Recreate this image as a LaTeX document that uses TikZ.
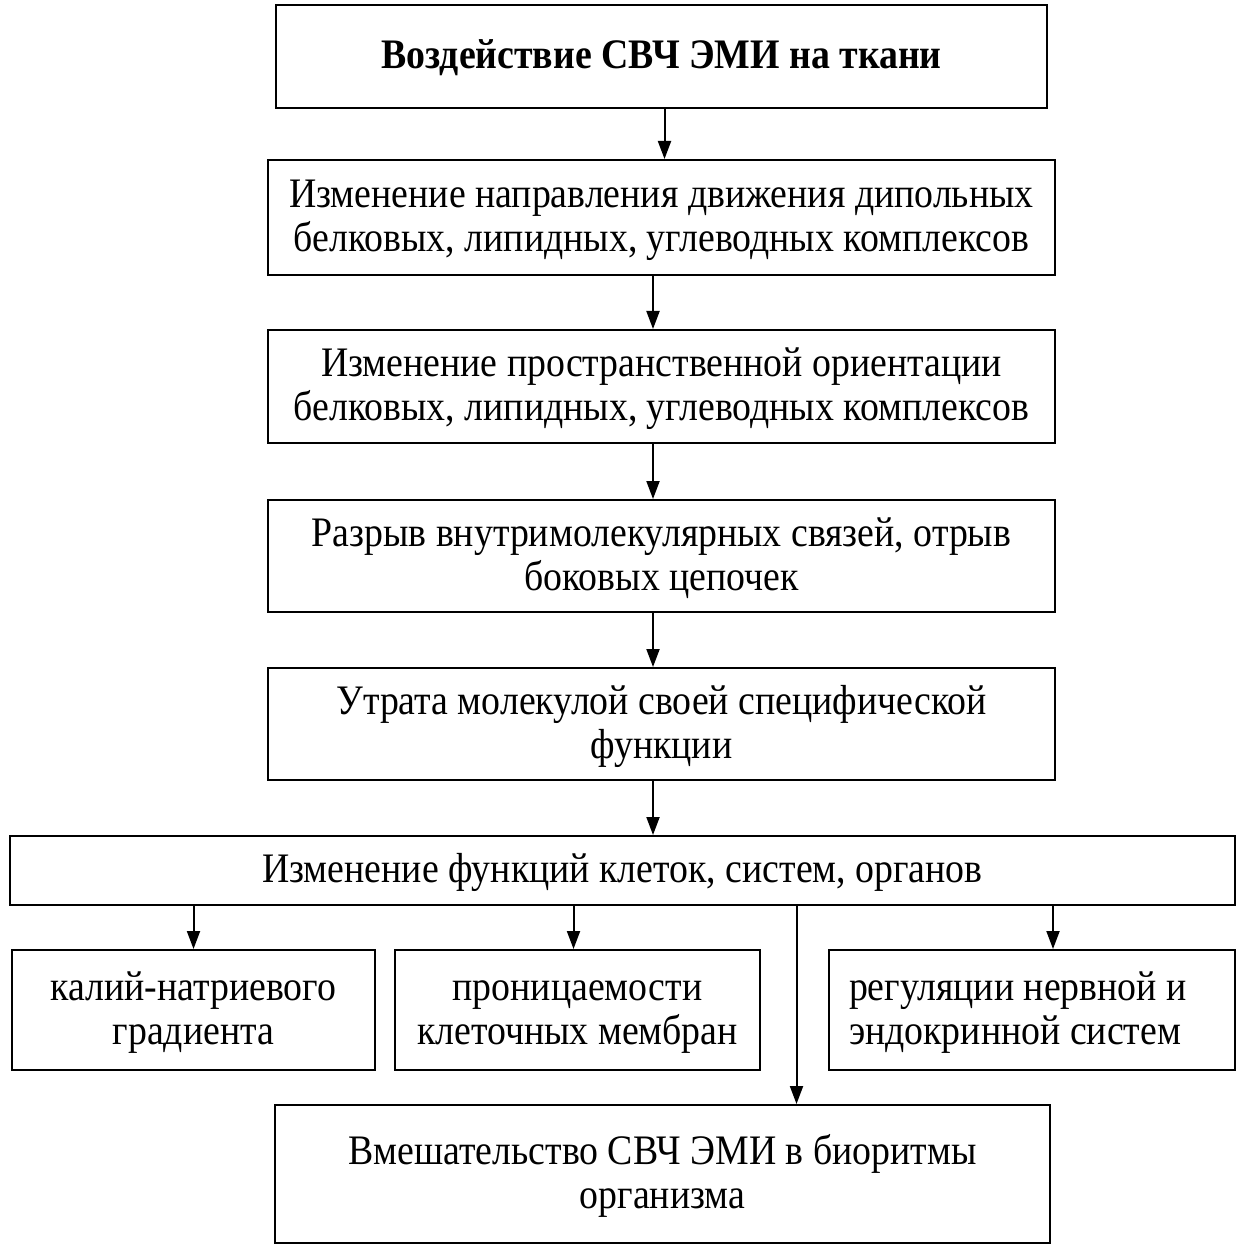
\documentclass[tikz,border=0pt]{standalone}
\usepackage{fontspec}
\setmainfont[FakeStretch=0.9]{Liberation Serif}
\usetikzlibrary{arrows.meta}
\newcommand\tst{\rule{0pt}{17.5pt}}
\newcommand\bst{\rule[-5.5pt]{0pt}{5.5pt}}
\begin{document}
\begin{tikzpicture}[x=0.5pt,y=-0.5pt,
  box/.style={draw, line width=1pt, inner sep=0pt, align=center, font=\fontsize{21}{22}\selectfont},
  arr/.style={line width=1pt, -{Triangle[length=9pt,width=6.5pt]}}]
\useasboundingbox (0,0) rectangle (1237,1245);
\node[box, font=\fontsize{21}{22}\selectfont\bfseries, minimum width=385.5pt, minimum height=51.5pt] (b1) at (661.5,56.5) {\tst Воздействие СВЧ ЭМИ на ткани\bst};
\node[box, minimum width=393.5pt, minimum height=57.5pt] (b2) at (661.5,217.5) {\tst Изменение направления движения дипольных\\белковых, липидных, углеводных комплексов\bst};
\node[box, minimum width=393.5pt, minimum height=56.5pt] (b3) at (661.5,386.5) {\tst Изменение пространственной ориентации\\белковых, липидных, углеводных комплексов\bst};
\node[box, minimum width=393.5pt, minimum height=56pt] (b4) at (661.5,556) {\tst Разрыв внутримолекулярных связей, отрыв\\боковых цепочек\bst};
\node[box, minimum width=393.5pt, minimum height=56pt] (b5) at (661.5,724) {\tst Утрата молекулой своей специфической\\функции\bst};
\node[box, minimum width=612.5pt, minimum height=34.5pt] (b6) at (622.5,870.5) {\tst Изменение функций клеток, систем, органов\bst};
\node[box, minimum width=181.5pt, minimum height=60pt] (b7) at (193.5,1010) {\tst калий-натриевого\\градиента\bst};
\node[box, minimum width=182.5pt, minimum height=60pt] (b8) at (577.5,1010) {\tst проницаемости\\клеточных мембран\bst};
\node[box, minimum width=203pt, minimum height=60pt, align=flush left, text width=183pt] (b9) at (1032,1010) {\tst регуляции нервной и\\эндокринной систем\bst};
\node[box, minimum width=387.5pt, minimum height=69pt] (b10) at (662.5,1174) {\tst Вмешательство СВЧ ЭМИ в биоритмы\\организма\bst};
\draw[arr] ([xshift=1.5pt]b1.south) -- ([xshift=1.5pt]b2.north);
\draw[arr] ([xshift=-4.25pt]b2.south) -- ([xshift=-4.25pt]b3.north);
\draw[arr] ([xshift=-4.25pt]b3.south) -- ([xshift=-4.25pt]b4.north);
\draw[arr] ([xshift=-4.25pt]b4.south) -- ([xshift=-4.25pt]b5.north);
\draw[arr] ([xshift=-4.25pt]b5.south) -- ([xshift=-4.25pt]b5.south |- b6.north);
\draw[arr] (b7.north |- b6.south) -- (b7.north);
\draw[arr] ([xshift=-2pt]b8.north |- b6.south) -- ([xshift=-2pt]b8.north);
\draw[arr] ([xshift=10.5pt]b9.north |- b6.south) -- ([xshift=10.5pt]b9.north);
\draw[arr] ([xshift=67pt]b10.north |- b6.south) -- ([xshift=67pt]b10.north);
\end{tikzpicture}
\end{document}
